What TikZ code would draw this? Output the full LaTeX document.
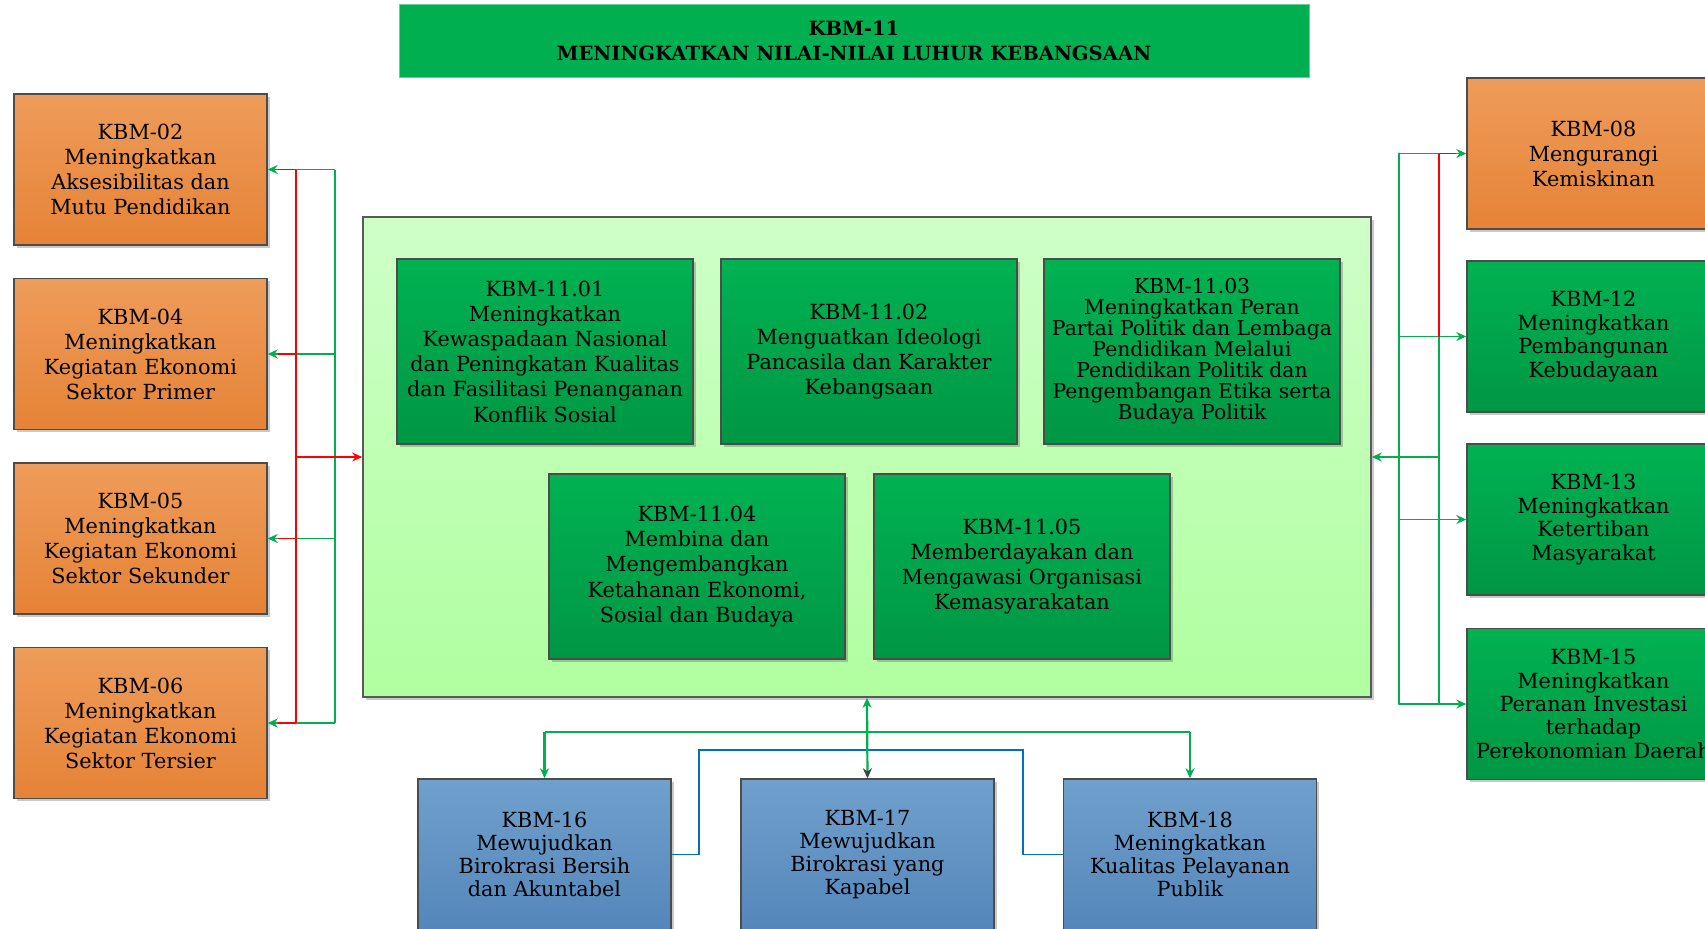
\documentclass[tikz,border=0pt]{standalone}
\usepackage{fontspec}
\setmainfont{DejaVu Serif}
\usetikzlibrary{arrows.meta,shadows}
\definecolor{tgreen}{RGB}{0,176,80}
\definecolor{gTop}{RGB}{0,178,82}
\definecolor{gBot}{RGB}{0,150,68}
\definecolor{orTop}{RGB}{238,156,90}
\definecolor{orBot}{RGB}{229,131,55}
\definecolor{lgTop}{RGB}{206,255,200}
\definecolor{lgBot}{RGB}{176,255,160}
\definecolor{blTop}{RGB}{112,160,204}
\definecolor{blBot}{RGB}{84,134,186}
\definecolor{lnGreen}{RGB}{0,176,80}
\definecolor{lnRed}{RGB}{255,0,0}
\definecolor{lnBlue}{RGB}{0,112,192}
\begin{document}
\begin{tikzpicture}[x=0.5pt,y=-0.5pt,
  box/.style={draw=black!70, line width=0.7pt, align=center, inner sep=1pt,
    drop shadow={shadow xshift=1.3pt,shadow yshift=-1.3pt,opacity=0.3,fill=black!70}},
  obox/.style={box, top color=orTop, bottom color=orBot, minimum width=126.5pt, minimum height=75.5pt,
    font=\fontsize{10.4}{12.5}\selectfont},
  rgbox/.style={box, top color=gTop, bottom color=gBot, minimum width=126.5pt, minimum height=75.5pt,
    font=\fontsize{10.4}{11.7}\selectfont},
  ibox/.style={box, top color=gTop, bottom color=gBot, minimum width=148pt, minimum height=92.5pt,
    font=\fontsize{10.4}{12.6}\selectfont},
  bbox/.style={box, top color=blTop, bottom color=blBot, minimum width=126.5pt, minimum height=75.5pt,
    font=\fontsize{10.4}{11.5}\selectfont},
  cbox/.style={draw=black!65, line width=0.8pt, top color=lgTop, bottom color=lgBot,
    minimum width=504pt, minimum height=240pt,
    drop shadow={shadow xshift=1.3pt,shadow yshift=-1.3pt,opacity=0.3,fill=black!70}},
  tbox/.style={fill=tgreen, draw=tgreen!60, line width=0.5pt, align=center, minimum width=455pt, minimum height=36.5pt,
    font=\bfseries\fontsize{9.8}{12.5}\selectfont},
  vline/.style={line width=1.1pt},
  hline/.style={line width=0.8pt},
  tip/.style={-{Stealth[length=5pt,width=4.5pt]}},
]
\useasboundingbox (0,0) rectangle (1705,928);
\clip (0,0) rectangle (1705,928);

% title
\node[tbox] (title) at (854,40.5) {KBM-11\\MENINGKATKAN NILAI-NILAI LUHUR KEBANGSAAN};

% centre box
\node[cbox] (main) at (867,457) {};
\node[ibox] (i01) at (545,351.5) {KBM-11.01\\Meningkatkan\\Kewaspadaan Nasional\\dan Peningkatan Kualitas\\dan Fasilitasi Penanganan\\Konflik Sosial};
\node[ibox] (i02) at (869,351.5) {KBM-11.02\\Menguatkan Ideologi\\Pancasila dan Karakter\\Kebangsaan};
\node[ibox, font=\fontsize{10.2}{10.5}\selectfont] (i03) at (1192,351.5) {KBM-11.03\\Meningkatkan Peran\\Partai Politik dan Lembaga\\Pendidikan Melalui\\Pendidikan Politik dan\\Pengembangan Etika serta\\Budaya Politik};
\node[ibox] (i04) at (697,566.5) {KBM-11.04\\Membina dan\\Mengembangkan\\Ketahanan Ekonomi,\\Sosial dan Budaya};
\node[ibox] (i05) at (1022,566.5) {KBM-11.05\\Memberdayakan dan\\Mengawasi Organisasi\\Kemasyarakatan};

% left boxes
\node[obox] (k02) at (140.5,169.5) {KBM-02\\Meningkatkan\\Aksesibilitas dan\\Mutu Pendidikan};
\node[obox] (k04) at (140.5,354) {KBM-04\\Meningkatkan\\Kegiatan Ekonomi\\Sektor Primer};
\node[obox] (k05) at (140.5,538.5) {KBM-05\\Meningkatkan\\Kegiatan Ekonomi\\Sektor Sekunder};
\node[obox] (k06) at (140.5,723) {KBM-06\\Meningkatkan\\Kegiatan Ekonomi\\Sektor Tersier};

% right boxes
\node[obox] (k08) at (1593.5,153.5) {KBM-08\\Mengurangi\\Kemiskinan};
\node[rgbox] (k12) at (1593.5,336.5) {KBM-12\\Meningkatkan\\Pembangunan\\Kebudayaan};
\node[rgbox] (k13) at (1593.5,519.5) {KBM-13\\Meningkatkan\\Ketertiban\\Masyarakat};
\node[rgbox] (k15) at (1593.5,704) {KBM-15\\Meningkatkan\\Peranan Investasi\\terhadap\\Perekonomian Daerah};

% bottom boxes
\node[bbox] (b16) at (544.5,854.5) {KBM-16\\Mewujudkan\\Birokrasi Bersih\\dan Akuntabel};
\node[bbox] (b17) at (867.5,854.5) {KBM-17\\Mewujudkan\\Birokrasi yang\\Kapabel};
\node[bbox] (b18) at (1190,854.5) {KBM-18\\Meningkatkan\\Kualitas Pelayanan\\Publik};

% ---- left connectors
\coordinate (gl) at (335,0);
\coordinate (rl) at (296,0);
\foreach \b in {k02,k04,k05,k06}{
  \draw[hline,lnGreen,tip] (\b.east -| gl) -- (\b.east);
  \draw[hline,lnRed] (\b.east -| rl) -- ([xshift=5pt]\b.east);
}
\draw[vline,lnGreen] (k02.east -| gl) -- (k06.east -| gl);
\draw[vline,lnRed] (k02.east -| rl) -- (k06.east -| rl);
\draw[hline,lnRed,tip] (main.west -| rl) -- (main.west);

% ---- right connectors
\coordinate (go) at (1399,0);
\coordinate (gi) at (1439,0);
\foreach \b in {k08,k12,k13,k15}{
  \draw[hline,lnGreen,tip] (\b.west -| go) -- (\b.west);
}
\draw[hline,lnRed] (k08.west -| gi) -- ([xshift=-5pt]k08.west);
\draw[vline,lnGreen,line cap=round] (k08.west -| go) -- (k15.west -| go);
\draw[vline,lnRed] (k08.west -| gi) -- (k12.west -| gi);
\draw[vline,lnGreen] (k12.west -| gi) -- (k15.west -| gi);
\draw[hline,lnGreen,tip] (main.east -| gi) -- (main.east);

% ---- bottom connectors
\coordinate (hb) at (0,732);
\coordinate (bl) at (699,750);
\coordinate (br) at (1023,750);
\draw[hline,lnBlue] (b16.east) -| (bl) -- (br) |- (b18.west);
\draw[vline,lnGreen] (b16.north |- hb) -- (b18.north |- hb);
\draw[vline,lnGreen,tip] (b16.north |- hb) -- (b16.north);
\draw[vline,lnGreen,tip] (b18.north |- hb) -- (b18.north);
\draw[vline,lnGreen,{Stealth[length=5pt,width=4.5pt]}-{Stealth[length=5pt,width=4.5pt,color=black!75]}] (main.south) -- (b17.north);
\end{tikzpicture}
\end{document}
